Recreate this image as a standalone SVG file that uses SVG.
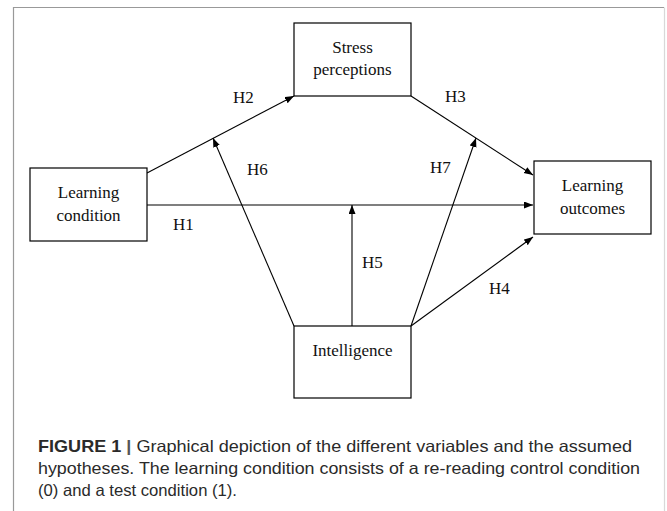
<svg xmlns="http://www.w3.org/2000/svg" width="667" height="511" viewBox="0 0 667 511">
<style>
.box{fill:#fff;stroke:#000;stroke-width:1.2}
.t{font-family:"Liberation Serif","Times New Roman",serif;font-size:17px;fill:#111;text-anchor:middle}
.lbl{font-family:"Liberation Serif","Times New Roman",serif;font-size:17px;fill:#111}
.ln{stroke:#000;stroke-width:1.1;fill:none}
.ar{marker-end:url(#ah)}
.cap{font-family:"Liberation Sans",Arial,sans-serif;font-size:16.5px;fill:#2a2a2a}
</style>
<defs>
<marker id="ah" markerUnits="userSpaceOnUse" markerWidth="10" markerHeight="8" refX="9" refY="3.5" orient="auto">
<path d="M0,0 L9,3.5 L0,7 z" fill="#000"/>
</marker>
</defs>
<rect width="667" height="511" fill="#fff"/>
<path d="M13.5,511 V7.5 H664" fill="none" stroke="#999" stroke-width="1.2"/>
<path d="M664.5,7.5 V511" fill="none" stroke="#d8d8d8" stroke-width="1.2"/>

<g id="connectors">
<path class="ln ar" d="M147,173 L294,96"/>
<path class="ln ar" d="M411,96 L533,175"/>
<path class="ln ar" d="M147,205 L533,205"/>
<path class="ln ar" d="M411,326 L533,237"/>
<path class="ln ar" d="M352,326 L352,205"/>
<path class="ln ar" d="M294,326 L213,138"/>
<path class="ln ar" d="M411,326 L476,138"/>
<text class="lbl" x="233" y="103">H2</text>
<text class="lbl" x="445" y="102">H3</text>
<text class="lbl" x="173" y="230">H1</text>
<text class="lbl" x="247" y="175">H6</text>
<text class="lbl" x="430" y="173">H7</text>
<text class="lbl" x="362" y="268">H5</text>
<text class="lbl" x="489" y="294">H4</text>
</g>

<g id="stress">
<rect class="box" x="294" y="23" width="117" height="73"/>
<text class="t" x="352.5" y="53">Stress</text>
<text class="t" x="352.5" y="75">perceptions</text>
</g>
<g id="condition">
<rect class="box" x="30" y="168" width="117" height="73"/>
<text class="t" x="88.5" y="198">Learning</text>
<text class="t" x="88.5" y="221">condition</text>
</g>
<g id="outcomes">
<rect class="box" x="534" y="161" width="117" height="73"/>
<text class="t" x="592.5" y="191">Learning</text>
<text class="t" x="592.5" y="214">outcomes</text>
</g>
<g id="intelligence">
<rect class="box" x="294" y="326" width="117" height="72"/>
<text class="t" x="352.5" y="356">Intelligence</text>
</g>

<g id="caption">
<text class="cap" x="38" y="452" textLength="594" lengthAdjust="spacingAndGlyphs"><tspan font-weight="bold">FIGURE 1</tspan> <tspan font-weight="bold" fill="#555">|</tspan> Graphical depiction of the different variables and the assumed</text>
<text class="cap" x="38" y="474" textLength="602" lengthAdjust="spacingAndGlyphs">hypotheses. The learning condition consists of a re-reading control condition</text>
<text class="cap" x="38" y="496" textLength="199" lengthAdjust="spacingAndGlyphs">(0) and a test condition (1).</text>
</g>
</svg>
